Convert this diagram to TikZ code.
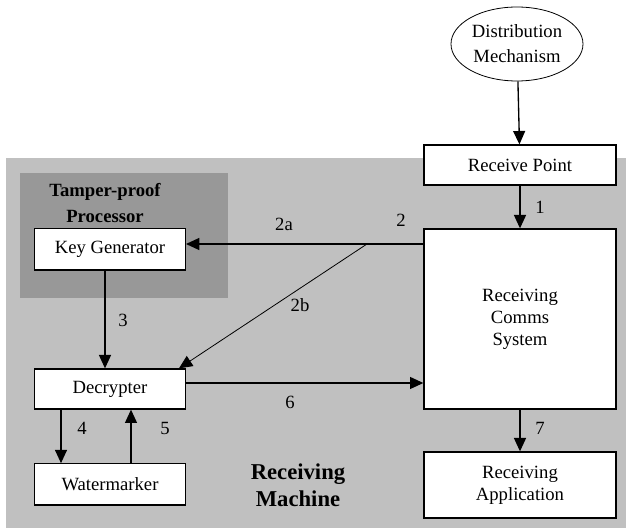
\documentclass[tikz,border=0pt]{standalone}
\usepackage{fontspec}
\setmainfont{Liberation Serif}
\usetikzlibrary{arrows.meta,shapes.geometric,calc,positioning}

\definecolor{machinegray}{HTML}{C0C0C0}
\definecolor{procgray}{HTML}{989898}

\tikzset{
  box/.style={draw=black,fill=white,inner sep=0pt,align=center,
    font=\fontsize{14}{16.5}\selectfont},
  lbl/.style={inner sep=0pt,font=\fontsize{14}{16.5}\selectfont},
  bigtxt/.style={align=center,inner sep=0pt},
  arr/.style={-{Triangle[length=10pt,width=9pt]}}
}

\begin{document}
\begin{tikzpicture}[x=0.75pt,y=-0.75pt,line width=1pt]

      \useasboundingbox (0,0) rectangle (626,531);

      % machine and processor areas
      \fill[machinegray] (6,158) rectangle (626,528);
      \fill[procgray] (20,173) rectangle (228,298);

      \node[bigtxt,font=\bfseries\fontsize{14}{19.5}\selectfont] (tpp) at (105,203) {Tamper-proof\\Processor};
      \node[bigtxt,font=\bfseries\fontsize{17}{20}\selectfont] (rm) at (298,485) {Receiving\\Machine};

      % boxes
      \node[ellipse,draw,fill=white,line width=.6pt,align=center,inner sep=0pt,
        minimum width=99pt,minimum height=55.5pt,
        font=\fontsize{14}{18.75}\selectfont] (dm) at (517,44) {Distribution\\Mechanism};
      \node[box,minimum width=144pt,minimum height=30pt] (rp) at (520,165) {Receive Point};
      \node[box,minimum width=144pt,minimum height=135pt] (comms) at (520,319) {Receiving\\Comms\\System};
      \node[box,minimum width=144pt,minimum height=49.5pt] (app) at (520,485) {Receiving\\Application};
      \node[box,minimum width=113pt,minimum height=31pt] (kg) at (110,249.5) {Key Generator};
      \node[box,minimum width=113pt,minimum height=30pt] (dec) at (110,389) {Decrypter};
      \node[box,minimum width=113pt,minimum height=31pt] (wm) at (110,484.5) {Watermarker};

      % connectors
      \draw[arr] (dm) -- (rp);
      \draw[arr] (rp) -- (comms);
      \draw[arr] (comms) -- (app);

      \coordinate (split) at (367,244);
      \draw[arr] (comms.west |- split) -- (split) -- (kg.east |- split);
      \draw[arr,line width=.6pt] (split) -- ($(dec.north east)+(-7,0)$);
      \draw[arr] ($(kg.south)+(-5,0)$) -- ($(dec.north)+(-5,0)$);
      \draw[arr] ($(dec.south west)+(27,0)$) -- ($(wm.north west)+(27,0)$);
      \draw[arr] ($(wm.north west)+(97,0)$) -- ($(dec.south west)+(97,0)$);
      \coordinate (d6) at ($(dec.east)+(0,-6)$);
      \draw[arr] (d6) -- (d6 -| comms.west);

      % labels
      \node[lbl] (l1) at (540,207) {1};
      \node[lbl] (l2) at (401,220) {2};
      \node[lbl] (l2a) at (284,224) {2a};
      \node[lbl] (l2b) at (300,305) {2b};
      \node[lbl] (l3) at (123,320) {3};
      \node[lbl] (l4) at (82,428) {4};
      \node[lbl] (l5) at (165,428) {5};
      \node[lbl] (l6) at (290,402) {6};
      \node[lbl] (l7) at (540,428) {7};

    \end{tikzpicture}
\end{document}
